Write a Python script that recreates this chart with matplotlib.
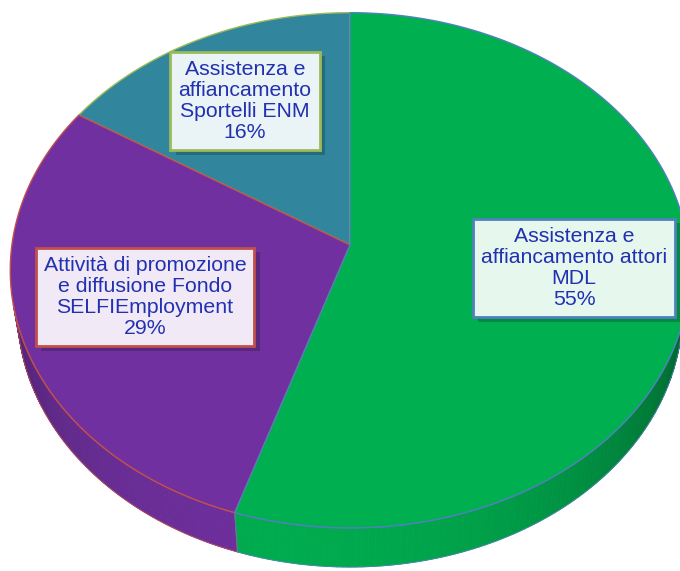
import numpy as np
import matplotlib.pyplot as plt
from matplotlib.collections import PolyCollection
from matplotlib.colors import to_rgb
from matplotlib import patheffects

# data
labels = ['Assistenza e\naffiancamento\nSportelli ENM',
          'Attività di promozione\ne diffusione Fondo\nSELFIEmployment',
          'Assistenza e\naffiancamento attori\nMDL']
values = [16, 29, 55]

# styles
top_colors = ['#31859C', '#7030A0', '#00B050']
edge_colors = ['#9BBB59', '#C0504D', '#4F81BD']
label_pos = [(245, 101), (145, 297), (574, 268)]

# 3d view of the disk (pixel space)
CX, CY = 350, 245
TILT = np.radians(49)
DIST = 6.67
FOCAL = 2255
THICK = 0.19


def project(theta, z=0.0):
  """Perspective projection of a point on the unit disk rim."""
  X = np.cos(theta)
  Y = np.sin(theta)
  vy = Y*np.sin(TILT) + z*np.cos(TILT)
  d = DIST + Y*np.cos(TILT) - z*np.sin(TILT)
  return CX + FOCAL*X/d, CY - FOCAL*vy/d


def shade(color, theta):
  f = np.clip(0.55 + 0.42*np.cos(theta - np.radians(258)), 0.3, 0.97)
  return tuple(np.array(to_rgb(color))*f)


fig = plt.figure(figsize=(6.8, 5.71), dpi=100)
ax = fig.add_axes([0, 0, 1, 1])
ax.set_xlim(0, 680)
ax.set_ylim(571, 0)
ax.axis('off')

total = sum(values)
bounds = 90 + 360*np.concatenate([[0], np.cumsum(values)])/total
limit = -1/(DIST*np.cos(TILT))

# side walls, back to front
quads, qcols, depth = [], [], []
outlines = []
for i, v in enumerate(values):
  t = np.radians(np.linspace(bounds[i], bounds[i+1], 200))
  vis = np.sin(t) < limit
  if vis.sum() < 2:
    continue
  tv = t[vis]
  xt, yt = project(tv, 0)
  xb, yb = project(tv, -THICK)
  for k in range(len(tv)-1):
    quads.append([(xt[k], yt[k]), (xt[k+1], yt[k+1]), (xb[k+1], yb[k+1]), (xb[k], yb[k])])
    m = 0.5*(tv[k] + tv[k+1])
    qcols.append(shade(top_colors[i], m))
    depth.append(np.sin(m))
  outlines.append((np.concatenate([xt, xb[::-1], xt[:1]]),
                   np.concatenate([yt, yb[::-1], yt[:1]]), edge_colors[i]))

order = np.argsort(depth)[::-1]
pc = PolyCollection([quads[j] for j in order], facecolors=[qcols[j] for j in order],
                    edgecolors=[qcols[j] for j in order], linewidths=0.6)
ax.add_collection(pc)
for x, y, c in outlines:
  ax.plot(x, y, color=c, lw=0.7, alpha=0.8)

# top surface
for i, v in enumerate(values):
  t = np.radians(np.linspace(bounds[i], bounds[i+1], 200))
  x, y = project(t, 0)
  ax.fill(np.concatenate([[CX], x]), np.concatenate([[CY], y]),
          facecolor=top_colors[i], edgecolor=edge_colors[i], lw=1.0)

# labels
for i, v in enumerate(values):
  fc = 0.9*np.ones(3) + 0.1*np.array(to_rgb(top_colors[i]))
  txt = ax.text(label_pos[i][0], label_pos[i][1], f'{labels[i]}\n{v}%',
                ha='center', va='center', fontsize=15.3, color='#2231B0',
                family=['Liberation Sans', 'DejaVu Sans'], linespacing=1.15,
                bbox=dict(boxstyle='square,pad=0.38', fc=fc, ec=edge_colors[i], lw=2))
  txt.get_bbox_patch().set_path_effects([
    patheffects.SimplePatchShadow(offset=(4, -3), shadow_rgbFace='k', alpha=0.2),
    patheffects.Normal()])

fig.savefig('out.png', dpi=100)
